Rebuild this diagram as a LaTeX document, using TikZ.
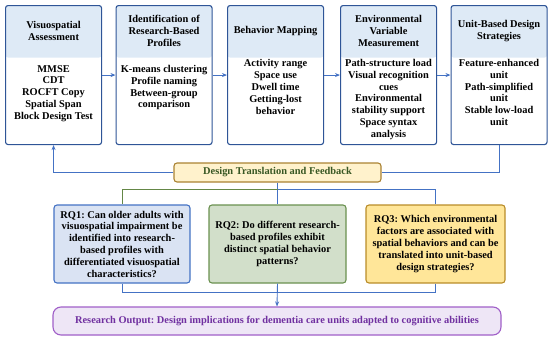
\documentclass[tikz,border=0pt]{standalone}
\usepackage{fontspec}
\setmainfont{Liberation Serif}
\frenchspacing
\usetikzlibrary{arrows.meta,calc}
\definecolor{tbord}{RGB}{47,85,151}
\definecolor{hdrfill}{RGB}{222,234,246}
\definecolor{conblue}{RGB}{68,114,196}
\definecolor{congreen}{RGB}{100,135,70}
\definecolor{rqafill}{RGB}{218,227,243}
\definecolor{rqabord}{RGB}{68,114,196}
\definecolor{rqbfill}{RGB}{210,223,202}
\definecolor{rqbbord}{RGB}{106,145,80}
\definecolor{rqcfill}{RGB}{255,230,153}
\definecolor{rqcbord}{RGB}{185,140,40}
\definecolor{dtfill}{RGB}{255,242,204}
\definecolor{dtbord}{RGB}{170,130,50}
\definecolor{dttext}{RGB}{56,87,35}
\definecolor{rofill}{RGB}{238,230,246}
\definecolor{robord}{RGB}{160,95,200}
\definecolor{rotext}{RGB}{112,48,160}
\begin{document}
\begin{tikzpicture}[x=1pt,y=-1pt,
  txt/.style={font=\fontsize{10.4}{11.8}\selectfont\bfseries\frenchspacing, align=center, inner sep=0pt},
  topbox/.style={draw=tbord, line width=1.1pt, fill=white, rounded corners=2.5pt,
    minimum width=96pt, minimum height=139pt, inner sep=0pt, anchor=north west,
    path picture={\fill[hdrfill] (path picture bounding box.north west) rectangle
      ($(path picture bounding box.north east)+(0,52)$);}},
  rqbox/.style={line width=1.1pt, rounded corners=3pt, minimum height=78pt, inner sep=0pt, txt},
  conn/.style={draw=conblue, line width=0.9pt},
  tip/.style={-{Stealth[length=5pt,width=4pt]}}
]
\useasboundingbox (0,0) rectangle (550,340);

% top boxes
\node[topbox] (b1) at (5,5) {};
\node[topbox] (b2) at (115.5,5) {};
\node[topbox] (b3) at (227,5) {};
\node[topbox] (b4) at (340,5) {};
\node[topbox] (b5) at (450.5,5) {};

\node[txt] (t1) at ($(b1.north)+(0,26)$) {Visuospatial\\Assessment};
\node[txt] (t2) at ($(b2.north)+(0,26)$) {Identification of\\Research-Based\\Profiles};
\node[txt] (t3) at ($(b3.north)+(0,26)$) {Behavior Mapping};
\node[txt] (t4) at ($(b4.north)+(0,26)$) {Environmental\\Variable\\Measurement};
\node[txt] (t5) at ($(b5.north)+(0,26)$) {Unit-Based Design\\Strategies};

\node[txt, anchor=north] (l1) at ($(b1.north)+(0,60)$) {MMSE\\CDT\\ROCFT Copy\\Spatial Span\\Block Design Test};
\node[txt, anchor=north] (l2) at ($(b2.north)+(0,60)$) {K-means clustering\\Profile naming\\Between-group\\comparison};
\node[txt, anchor=north] (l3) at ($(b3.north)+(0,54.5)$) {Activity range\\Space use\\Dwell time\\Getting-lost\\behavior};
\node[txt, anchor=north] (l4) at ($(b4.north)+(0,54)$) {Path-structure load\\Visual recognition\\cues\\Environmental\\stability support\\Space syntax\\analysis};
\node[txt, anchor=north] (l5) at ($(b5.north)+(0,54)$) {Feature-enhanced\\unit\\Path-simplified\\unit\\Stable low-load\\unit};

\draw[conn,tip] (b1.east) -- (b2.west);
\draw[conn,tip] (b2.east) -- (b3.west);
\draw[conn,tip] (b3.east) -- (b4.west);
\draw[conn,tip] (b4.east) -- (b5.west);

% design translation
\node[txt, draw=dtbord, fill=dtfill, line width=1.1pt, rounded corners=3pt,
  minimum width=207pt, minimum height=19pt, text=dttext] (dt) at (277.5,172.5) {Design Translation and Feedback};

% RQ boxes
\node[rqbox, draw=rqabord, fill=rqafill, minimum width=136pt] (rq1) at (122,244)
  {RQ1: Can older adults with\\visuospatial impairment be\\identified into research-\\based profiles with\\differentiated visuospatial\\characteristics?};
\node[rqbox, draw=rqbbord, fill=rqbfill, minimum width=137pt] (rq2) at (277.5,244)
  {RQ2: Do different research-\\based profiles exhibit\\distinct spatial behavior\\patterns?};
\node[rqbox, draw=rqcbord, fill=rqcfill, minimum width=139pt] (rq3) at (435.5,244)
  {RQ3: Which environmental\\factors are associated with\\spatial behaviors and can be\\translated into unit-based\\design strategies?};

% research output
\node[txt, draw=robord, fill=rofill, line width=1.1pt, rounded corners=8pt,
  minimum width=448pt, minimum height=28pt, text=rotext] (ro) at (277,321)
  {Research Output: Design implications for dementia care units adapted to cognitive abilities};

% connectors
\coordinate (split) at (277.5,189);
\coordinate (merge) at (277.5,292);
\draw[conn] (b5.south) |- (dt.east);
\draw[conn,tip] (dt.west) -| (b1.south);
\draw[conn] (dt.south) -- (rq2.north);
\draw[draw=congreen, line width=0.9pt] (split) -| (rq1.north);
\draw[conn] (split) -| (rq3.north);
\draw[conn] (rq1.south) |- (merge);
\draw[conn] (rq3.south) |- (merge);
\draw[conn,tip] (rq2.south) -- (ro.north);
\end{tikzpicture}
\end{document}
